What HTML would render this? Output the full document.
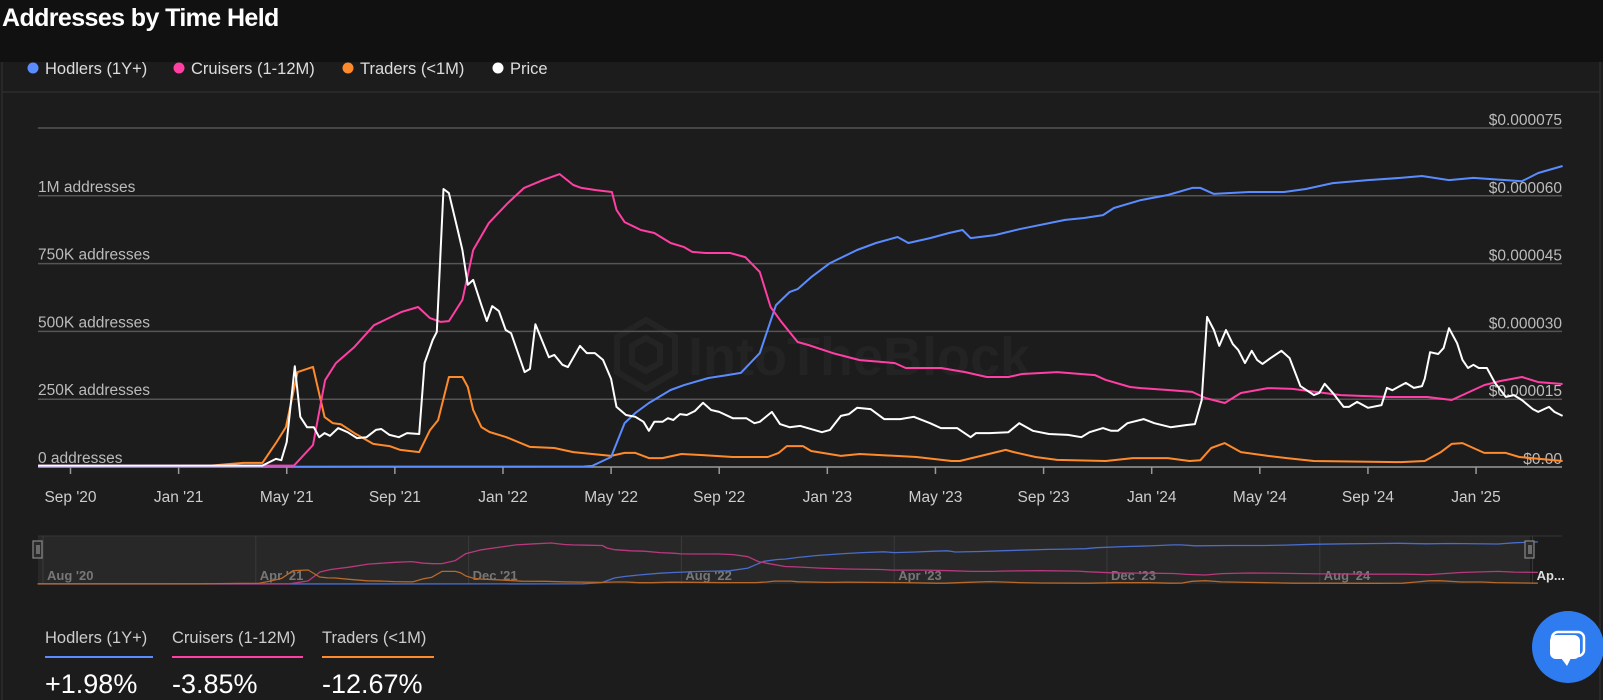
<!DOCTYPE html>
<html><head><meta charset="utf-8"><style>
html,body{margin:0;padding:0;background:#1c1c1c;}
body{width:1603px;height:700px;overflow:hidden;position:relative;font-family:"Liberation Sans",sans-serif;}
#hdr{position:absolute;left:0;top:0;width:1603px;height:62px;background:#111;}
#title{position:absolute;left:2px;top:4px;font-size:25px;font-weight:bold;color:#fff;letter-spacing:-0.6px;}
svg{position:absolute;left:0;top:0;}
</style></head><body>
<div id="hdr"><div id="title">Addresses by Time Held</div></div>
<svg id="chart" width="1603" height="700">
<line x1="2" y1="62" x2="2" y2="700" stroke="#333"/>
<line x1="1600" y1="62" x2="1600" y2="700" stroke="#333"/>
<line x1="2" y1="92" x2="1600" y2="92" stroke="#333"/>
<g font-size="16.5" fill="#ddd">
<g><circle cx="33" cy="68" r="5.5" fill="#5b8cff"/><text x="45" y="74">Hodlers (1Y+)</text></g>
<g><circle cx="179" cy="68" r="5.5" fill="#ff3fa4"/><text x="191" y="74">Cruisers (1-12M)</text></g>
<g><circle cx="348" cy="68" r="5.5" fill="#ff8a2b"/><text x="360" y="74">Traders (&lt;1M)</text></g>
<g><circle cx="498" cy="68" r="5.5" fill="#fff"/><text x="510" y="74">Price</text></g>
</g>
<g opacity="0.9">
<path d="M646 320 L675 337 L675 372 L646 389 L617 372 L617 337 Z M646 338 L660 346 L660 363 L646 371 L632 363 L632 346 Z" fill="none" stroke="#252525" stroke-width="6"/>
<text x="688" y="375" font-size="54" font-weight="bold" fill="#242424">IntoTheBlock</text>
</g>
<g id="grid"></g><g id="series"></g><g id="xaxis"></g><g id="nav"></g>
<g>
<text x="45" y="643" font-size="16.5" fill="#ccc">Hodlers (1Y+)</text>
<rect x="45" y="656" width="108" height="2" fill="#5b8cff"/>
<text x="45" y="693" font-size="27" fill="#fff">+1.98%</text>
<text x="172" y="643" font-size="16.5" fill="#ccc">Cruisers (1-12M)</text>
<rect x="172" y="656" width="131" height="2" fill="#ff3fa4"/>
<text x="172" y="693" font-size="27" fill="#fff">-3.85%</text>
<text x="322" y="643" font-size="16.5" fill="#ccc">Traders (&lt;1M)</text>
<rect x="322" y="656" width="112" height="2" fill="#ff8a2b"/>
<text x="322" y="693" font-size="27" fill="#fff">-12.67%</text>
</g>
<g>
<circle cx="1568" cy="647" r="36" fill="#2f7bf0"/>
<rect x="1552" y="632" width="32" height="24" rx="6" fill="none" stroke="#fff" stroke-width="2.5"/>
<rect x="1550" y="635" width="30" height="24" rx="6" fill="#fff"/>
<path d="M1561 658 L1567 666 L1571 658 Z" fill="#fff"/>
</g>
</svg>
<script>
// time in months from Sep 1 2020; addresses in thousands; price in 1e-6 USD
const hodlersT=[-1.2,19.0,19.3,20.0,20.5,20.9,21.4,22.2,22.7,23.6,24.3,24.8,25.5,25.7,26.1,26.6,26.9,27.4,28.1,29.1,29.8,30.6,31.0,31.8,32.5,33.0,33.3,34.2,35.1,36.8,37.5,38.2,38.6,39.6,40.6,41.5,41.8,42.3,43.6,44.9,45.7,46.7,48.0,49.2,50.0,51.0,51.9,53.7,54.3,55.2];
const hodlersV=[0,2,4,37,162,199,236,284,302,328,339,347,420,479,597,645,656,700,752,800,826,848,826,844,863,874,844,855,877,911,918,929,955,984,1003,1029,1029,1007,1014,1014,1025,1047,1058,1066,1073,1058,1066,1054,1084,1110];
const cruisersT=[-1.2,8.27,8.97,9.42,9.82,10.5,11.23,12.23,12.86,13.3,13.7,14.0,14.5,14.9,15.48,16.18,16.78,17.48,18.1,18.6,18.9,19.44,20.03,20.2,20.5,21.1,21.6,22.2,22.7,23.0,23.5,24.4,24.96,25.5,25.9,26.3,26.9,27.3,28.2,29.2,30.5,30.9,32.2,33.1,33.9,34.7,35.2,36.5,37.9,38.3,39.2,39.6,40.6,41.5,42.0,42.7,43.3,44.3,45.2,47.0,48.8,50.2,51.1,52.3,52.9,53.7,54.3,55.2];
const cruisersV=[5,5,81,320,383,442,523,571,590,549,535,538,616,800,900,973,1029,1058,1080,1040,1029,1021,1014,948,903,874,863,826,811,793,789,789,774,719,590,535,461,450,420,394,383,365,365,350,332,332,343,350,339,321,295,291,284,277,254,236,273,291,288,265,258,258,247,302,317,332,313,306];
const tradersT=[-1.2,4.9,6.4,7.1,7.6,7.97,8.4,8.97,9.4,9.7,10.0,10.5,11.2,11.8,12.2,12.9,13.3,13.6,14.0,14.5,14.7,14.9,15.2,15.5,16.1,17.0,17.9,18.6,20.0,20.5,20.9,21.4,21.9,22.6,23.4,24.5,25.8,26.2,26.5,27.1,27.4,28.5,29.2,31.3,32.6,32.9,33.8,34.6,34.9,35.7,36.5,38.3,39.3,40.6,41.4,41.8,42.2,42.7,43.3,44.3,45.0,46.0,49.2,50.1,50.7,51.1,51.5,52.3,53.1,53.6,55.2];
const tradersV=[3,3,15,15,88,147,350,369,184,162,158,125,85,77,63,55,136,173,332,332,295,210,147,129,111,74,70,55,41,52,52,33,33,48,44,37,37,52,77,77,59,41,48,37,22,22,44,63,55,37,26,22,33,33,22,25,70,88,55,41,33,22,18,22,55,85,88,52,52,37,22];
const priceT=[-1.2,7.1,7.6,7.8,8.0,8.3,8.5,8.75,9.0,9.2,9.4,9.6,9.9,10.25,10.6,10.95,11.3,11.5,11.8,12.15,12.45,12.9,13.1,13.4,13.55,13.8,14.0,14.3,14.5,14.7,14.9,15.2,15.4,15.6,15.85,16.1,16.3,16.8,17.0,17.2,17.7,17.9,18.2,18.4,18.85,19.1,19.4,19.7,20.0,20.2,20.55,20.9,21.2,21.4,21.6,21.9,22.1,22.3,22.55,22.8,23.1,23.4,23.7,24.0,24.5,25.0,25.3,25.5,25.95,26.25,26.6,27.0,27.8,28.1,28.5,28.8,29.1,29.6,30.1,30.7,31.2,31.8,32.2,32.8,33.3,33.5,34.0,34.7,35.1,35.6,36.2,36.9,37.4,37.7,38.2,38.5,38.75,39.1,39.7,40.1,40.7,41.3,41.6,41.85,42.05,42.3,42.5,42.75,43.0,43.2,43.45,43.7,43.9,44.1,44.4,44.8,45.1,45.5,46.0,46.2,46.4,46.7,47.1,47.3,47.6,48.0,48.5,48.7,48.9,49.4,49.7,50.0,50.1,50.3,50.6,50.8,51.0,51.3,51.5,51.7,51.9,52.1,52.4,52.7,53.1,53.4,53.7,54.1,54.3,54.7,54.9,55.2];
const priceV=[0.3,0.3,1.8,1.5,5.5,22.3,11.1,8.8,8.8,6.6,7.5,6.9,8.6,7.7,6.4,6.6,8.2,8.4,7.1,6.6,7.5,7.3,23.0,28.1,29.9,61.5,60.6,53.1,48.0,40.3,41.4,35.8,32.3,35.6,34.5,30.3,29.6,21.0,21.7,31.6,24.3,24.8,22.6,22.1,26.8,25.2,25.2,23.7,19.5,13.3,11.5,11.1,10.0,8.0,10.0,10.0,10.8,10.4,11.7,11.5,12.4,14.2,12.6,12.2,10.8,10.8,9.7,10.0,12.2,9.5,8.8,9.1,7.7,8.2,11.3,11.7,13.1,12.8,10.6,10.6,11.1,9.7,8.6,8.6,6.6,7.5,7.5,7.7,9.7,8.0,7.3,7.1,6.6,7.7,8.6,8.0,8.0,9.7,10.6,9.7,8.8,9.3,9.5,14.8,33.2,30.3,26.8,30.3,27.2,25.9,23.0,25.7,23.7,22.8,24.1,25.7,24.1,17.9,15.9,16.4,18.4,16.4,13.3,13.3,14.4,13.1,13.7,17.5,17.0,18.6,17.5,17.9,19.5,25.4,25.0,26.3,30.7,27.4,23.7,21.9,22.6,21.9,21.9,18.6,15.5,15.9,14.8,12.8,12.2,13.3,12.2,11.3];
const leftTicks=[0,250,500,750,1000,1250];
const leftLabels=["0 addresses","250K addresses","500K addresses","750K addresses","1M addresses",""];
const rightLabels=["$0.00","$0.000015","$0.000030","$0.000045","$0.000060","$0.000075"];
const xTickMonths=[0,4,8,12,16,20,24,28,32,36,40,44,48,52];
const xTickLabels=["Sep '20","Jan '21","May '21","Sep '21","Jan '22","May '22","Sep '22","Jan '23","May '23","Sep '23","Jan '24","May '24","Sep '24","Jan '25"];
const navTickMonths=[-1,7,15,23,31,39,47,55];
const navTickLabels=["Aug '20","Apr '21","Dec '21","Aug '22","Apr '23","Dec '23","Aug '24","Ap..."];

const NS="http://www.w3.org/2000/svg";
const X0=38,X1=1562,Y0=467,PXK=67.8/250;
const xs=t=>70.5+t*27.03;
const ya=v=>Y0-v*PXK;
const yp=p=>Y0-p*(67.8/15);
const nx=t=>43+(t+1)*26.6;
const ny=v=>584-v*(41/1080);
function mk(tag,attrs,parent){const e=document.createElementNS(NS,tag);for(const k in attrs)e.setAttribute(k,attrs[k]);parent.appendChild(e);return e;}
const grid=document.getElementById('grid');
leftTicks.forEach((v,i)=>{
  const y=ya(v);
  const l=mk('line',{x1:X0,x2:X1,y1:y,y2:y,stroke:i===0?'#999':'#555','stroke-width':1.5},grid);
  
  
  if(leftLabels[i]){const t=mk('text',{x:X0,y:y-4,'font-size':15.5,fill:'#bbb'},grid);t.textContent=leftLabels[i];
  
  }
  const r=mk('text',{x:X1,y:y-3,'font-size':15.5,fill:'#bbb','text-anchor':'end'},grid);r.textContent=rightLabels[i];
  
  
});
const ser=document.getElementById('series');
function line(T,V,fx,fy,color,name,parent,w){
  const d=T.map((t,i)=>(i?'L':'M')+fx(t).toFixed(1)+' '+fy(V[i]).toFixed(1)).join(' ');
  const p=mk('path',{d:d,fill:'none',stroke:color,'stroke-width':w,'stroke-linejoin':'round'},parent);
  
  
}
line(tradersT,tradersV,xs,ya,'#ff8a2b','traders-line',ser,2);
line(hodlersT,hodlersV,xs,ya,'#5b8cff','hodlers-line',ser,2);
line(cruisersT,cruisersV,xs,ya,'#ff3fa4','cruisers-line',ser,2);
line(priceT,priceV,xs,yp,'#ffffff','price-line',ser,2);
const xa=document.getElementById('xaxis');
xTickMonths.forEach((m,i)=>{
  const x=xs(m);
  const tk=mk('line',{x1:x,x2:x,y1:Y0,y2:Y0+7,stroke:'#999','stroke-width':1.5},xa);
  
  
  const t=mk('text',{x:x,y:502,'font-size':15.5,fill:'#ccc','text-anchor':'middle'},xa);t.textContent=xTickLabels[i];
  
  
});
const nav=document.getElementById('nav');
const bg=mk('rect',{x:38,y:536,width:1492,height:48,fill:'#282828'},nav);


mk('line',{x1:38,x2:1562,y1:536,y2:536,stroke:'#333'},nav);
navTickMonths.forEach((m,i)=>{
  const x=nx(m);
  const l=mk('line',{x1:x,x2:x,y1:536,y2:584,stroke:'#3a3a3a'},nav);
  
  
  const t=mk('text',{x:x+4,y:580,'font-size':13,fill:i===7?'#ddd':'#777','font-weight':'bold'},nav);t.textContent=navTickLabels[i];
  
  
});
line(hodlersT,hodlersV,nx,ny,'#4a6ccc','navigator-hodlers-line',nav,1.3);
line(cruisersT,cruisersV,nx,ny,'#b8397d','navigator-cruisers-line',nav,1.3);
line(tradersT,tradersV,nx,ny,'#b8682a','navigator-traders-line',nav,1.3);
[38,1530].forEach((x,i)=>{
  const h=mk('rect',{x:x-5,y:541,width:9,height:17,fill:'#2a2a2a',stroke:'#888','stroke-width':1.2},nav);
  
  
  mk('line',{x1:x-1,x2:x-1,y1:545,y2:554,stroke:'#aaa'},nav);
  mk('line',{x1:x+1,x2:x+1,y1:545,y2:554,stroke:'#aaa'},nav);
});
</script>
</body></html>
